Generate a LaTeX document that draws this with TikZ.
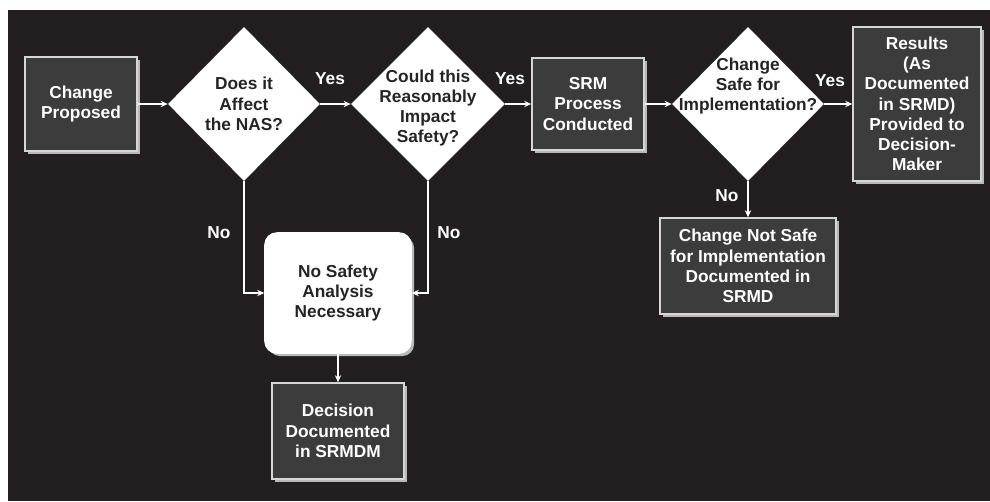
\documentclass[tikz,border=0pt]{standalone}
\usepackage{fontspec}
\setmainfont{Liberation Sans}
\usetikzlibrary{shapes.geometric, arrows.meta, positioning, shadows}
\definecolor{bgdark}{HTML}{231F20}
\definecolor{boxfill}{HTML}{3C3C3C}
\definecolor{boxedge}{HTML}{D6D6D6}
\definecolor{darktext}{HTML}{242424}
\tikzset{
  procbox/.style={rectangle, draw=boxedge, line width=1.1pt, fill=boxfill,
    text=white, font=\fontsize{12.3}{14.4}\selectfont\bfseries, align=center,
    inner sep=2pt,
    drop shadow={shadow xshift=2.2pt, shadow yshift=-2.2pt, fill=gray!55, opacity=1}},
  decision/.style={diamond, fill=white, inner sep=0pt},
  qtext/.style={text=darktext, font=\fontsize{12.3}{14.4}\selectfont\bfseries,
    align=center, inner sep=0pt},
  flow/.style={white, line width=1.1pt, -{Stealth[length=5pt, width=4.5pt]}},
  answer/.style={text=white, font=\fontsize{12.3}{14.4}\selectfont\bfseries}
}

\begin{document}
\begin{tikzpicture}[x=0.025cm, y=-0.025cm]
    % --- Fundo ---
    \useasboundingbox (0,0) rectangle (990,501);
    \fill[bgdark] (8,10) rectangle (990,501);
    % --- Linha de cima ---
    \node[procbox, minimum width=2.8cm, minimum height=2.35cm] (cp) at (81,104)
      {Change\\Proposed};
    \node[decision, minimum width=3.8cm, minimum height=3.85cm] (d1) at (244,104) {};
    \node[qtext] (d1t) at (244,104) {Does it\\Affect\\the NAS?};
    \node[decision, minimum width=3.85cm, minimum height=3.85cm] (d2) at (428,104) {};
    \node[qtext] (d2t) at (428,108) {Could this\\Reasonably\\Impact\\Safety?};
    \node[procbox, minimum width=2.8cm, minimum height=2.3cm] (srm) at (588,104)
      {SRM\\Process\\Conducted};
    \node[decision, minimum width=3.8cm, minimum height=3.85cm] (d3) at (748,104) {};
    \node[qtext] (d3t) at (748,86) {Change\\Safe for\\Implementation?};
    \node[procbox, minimum width=3.2cm, minimum height=3.85cm] (res) at (917,104)
      {Results\\(As\\Documented\\in SRMD)\\Provided to\\Decision-\\Maker};
    % --- Linha de baixo ---
    \node[procbox, fill=white, draw=white, rounded corners=0.3cm,
          minimum width=3.65cm, minimum height=3.0cm, text=darktext] (nsa) at (338,293)
      {No Safety\\Analysis\\Necessary};
    \node[procbox, minimum width=3.3cm, minimum height=2.4cm] (dd) at (338,431)
      {Decision\\Documented\\in SRMDM};
    \node[procbox, minimum width=4.4cm, minimum height=2.4cm] (cns) at (748,266)
      {Change Not Safe\\for Implementation\\Documented in\\SRMD};
    % Conexoes
    \draw[flow] (cp) -- (d1);
    \draw[flow] (d1) -- (d2);
    \draw[flow] (d2) -- (srm);
    \draw[flow] (srm) -- (d3);
    \draw[flow] (d3) -- (res);
    \draw[flow] (d1.south) |- (nsa.west);
    \draw[flow] (d2.south) |- (nsa.east);
    \draw[flow] (nsa) -- (dd);
    \draw[flow] (d3.south) -- (cns.north);
    % Rotulos
    \node[answer] (y1) at (330,79) {Yes};
    \node[answer] (y2) at (510,79) {Yes};
    \node[answer] (y3) at (830,81) {Yes};
    \node[answer] (n1) at (219,233) {No};
    \node[answer] (n2) at (449,233) {No};
    \node[answer] (n3) at (727,196) {No};
  \end{tikzpicture}
\end{document}
